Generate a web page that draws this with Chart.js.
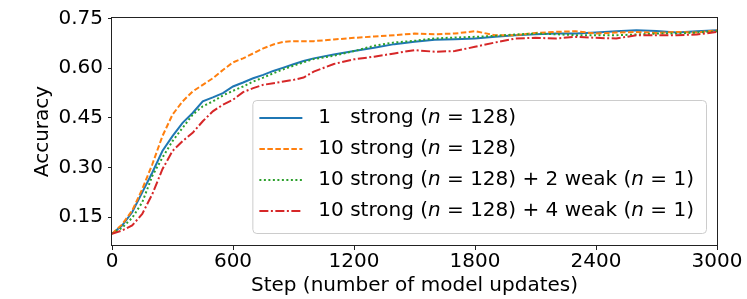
<!DOCTYPE html>
<html>
<head>
<meta charset="utf-8">
<script src="https://cdn.jsdelivr.net/npm/chart.js@4.4.1/dist/chart.umd.min.js"></script>
<style>
  html, body { margin: 0; padding: 0; background: #fff; }
  #wrap { width: 747px; height: 299px; }
</style>
</head>
<body>
<div id="wrap"><canvas id="chart" width="747" height="299"></canvas></div>
<script>
// --- Data ---
const steps = [0, 50, 100, 150, 200, 250, 300, 350, 400, 450, 500, 550, 600, 650, 700, 750, 800, 850, 900, 950, 1000,
    1100, 1200, 1300, 1400, 1500, 1600, 1700, 1800, 1900, 2000, 2100, 2200, 2300, 2400, 2500, 2600, 2700, 2800, 2900, 3000];

const strong1 = [0.100, 0.125, 0.165, 0.225, 0.285, 0.350, 0.395, 0.435, 0.465, 0.500, 0.512, 0.525, 0.545, 0.557, 0.570, 0.580, 0.592, 0.602, 0.612, 0.622, 0.630,
    0.642, 0.652, 0.662, 0.673, 0.680, 0.686, 0.688, 0.690, 0.695, 0.700, 0.703, 0.705, 0.705, 0.708, 0.712, 0.715, 0.713, 0.708, 0.712, 0.715];

const strong10 = [0.100, 0.128, 0.170, 0.235, 0.310, 0.395, 0.460, 0.500, 0.530, 0.550, 0.570, 0.595, 0.618, 0.630, 0.645, 0.660, 0.672, 0.680, 0.682, 0.682, 0.682,
    0.687, 0.692, 0.696, 0.700, 0.705, 0.703, 0.705, 0.712, 0.700, 0.700, 0.707, 0.710, 0.712, 0.705, 0.708, 0.710, 0.707, 0.710, 0.708, 0.715];

const weak2 = [0.100, 0.118, 0.148, 0.195, 0.275, 0.330, 0.380, 0.420, 0.460, 0.485, 0.500, 0.518, 0.532, 0.545, 0.560, 0.572, 0.585, 0.597, 0.608, 0.618, 0.628,
    0.638, 0.652, 0.668, 0.678, 0.683, 0.690, 0.693, 0.695, 0.698, 0.702, 0.705, 0.703, 0.700, 0.700, 0.700, 0.702, 0.705, 0.705, 0.708, 0.712];

const weak4 = [0.100, 0.110, 0.125, 0.160, 0.220, 0.295, 0.350, 0.380, 0.405, 0.440, 0.470, 0.490, 0.505, 0.528, 0.540, 0.550, 0.555, 0.560, 0.565, 0.572, 0.590,
    0.613, 0.627, 0.635, 0.645, 0.655, 0.650, 0.652, 0.665, 0.678, 0.690, 0.692, 0.690, 0.695, 0.692, 0.690, 0.700, 0.700, 0.700, 0.702, 0.710];

// *...* marks italic parts
const seriesLabels = [
    '1   strong (*n* = 128)',
    '10 strong (*n* = 128)',
    '10 strong (*n* = 128) + 2 weak (*n* = 1)',
    '10 strong (*n* = 128) + 4 weak (*n* = 1)'
];

const yTicks = [0.15, 0.30, 0.45, 0.60, 0.75];
const xTicks = [0, 600, 1200, 1800, 2400, 3000];

const FONT = 'DejaVu Sans';
Chart.defaults.font.family = FONT;
Chart.defaults.font.size = 20;
Chart.defaults.color = '#000';

function toPoints(vals) {
    return steps.map((s, i) => ({ x: s, y: vals[i] }));
}

function makeSet(idx, vals, color, dash) {
    return {
        label: seriesLabels[idx].replace(/\*/g, ''),
        data: toPoints(vals),
        borderColor: color,
        backgroundColor: color,
        borderWidth: 2,
        borderDash: dash,
        pointRadius: 0,
        tension: 0,
        fill: false,
        order: 4 - idx
    };
}

// full box round the plot, like matplotlib spines
const frame = {
    id: 'frame',
    afterDatasetsDraw(chart) {
        const { ctx, chartArea: a } = chart;
        ctx.save();
        ctx.strokeStyle = '#222';
        ctx.lineWidth = 1;
        ctx.strokeRect(Math.round(a.left) - 0.5, Math.round(a.top) + 0.5, Math.round(a.right - a.left) + 1, Math.round(a.bottom - a.top) - 1);
        ctx.restore();
    }
};

// legend in the lower right of the plot
const boxLegend = {
    id: 'boxLegend',
    afterDraw(chart) {
        const { ctx, chartArea: a } = chart;
        const sets = chart.data.datasets;
        ctx.save();
        const fs = 20;
        const normal = fs + 'px "' + FONT + '"';
        const italic = 'oblique ' + fs + 'px "' + FONT + '"';

        const parts = seriesLabels.map(l => l.split('*'));
        const widths = parts.map(p => p.reduce((w, s, i) => {
            ctx.font = i % 2 ? italic : normal;
            return w + ctx.measureText(s).width;
        }, 0));
        const textW = Math.max(...widths);

        const pad = 7, handle = 43, gap = 16, rowH = 31;
        const w = pad + handle + gap + textW + 12;
        const h = rowH * sets.length + 9;
        const right = a.right - 11;
        const bottom = a.bottom - 13;
        const x0 = right - w, y0 = bottom - h;

        ctx.beginPath();
        ctx.roundRect(x0 + 0.5, y0 + 0.5, w, h, 4);
        ctx.fillStyle = 'rgba(255,255,255,0.8)';
        ctx.fill();
        ctx.strokeStyle = '#cccccc';
        ctx.lineWidth = 1;
        ctx.stroke();

        sets.forEach((ds, i) => {
            const cy = y0 + 18 + i * rowH;
            ctx.beginPath();
            ctx.setLineDash(ds.borderDash || []);
            ctx.strokeStyle = ds.borderColor;
            ctx.lineWidth = ds.borderWidth;
            ctx.moveTo(x0 + pad, cy);
            ctx.lineTo(x0 + pad + handle, cy);
            ctx.stroke();
            ctx.setLineDash([]);

            let tx = x0 + pad + handle + gap;
            ctx.fillStyle = '#000';
            ctx.textBaseline = 'middle';
            parts[i].forEach((s, j) => {
                ctx.font = j % 2 ? italic : normal;
                ctx.fillText(s, tx, cy);
                tx += ctx.measureText(s).width;
            });
        });
        ctx.restore();
    }
};

new Chart(document.getElementById('chart'), {
    type: 'line',
    data: {
        datasets: [
            makeSet(0, strong1, '#1f77b4', []),
            makeSet(1, strong10, '#ff7f0e', [5.5, 2.5]),
            makeSet(2, weak2, '#2ca02c', [2, 2.5]),
            makeSet(3, weak4, '#d62728', [9, 2.5, 2, 2.5])
        ]
    },
    options: {
        responsive: false,
        animation: false,
        layout: { padding: { top: 15, right: 30, left: 0, bottom: 0 } },
        plugins: { legend: { display: false }, tooltip: { enabled: false } },
        scales: {
            x: {
                type: 'linear',
                min: 0,
                max: 3000,
                afterBuildTicks: s => { s.ticks = xTicks.map(v => ({ value: v })); },
                afterFit: s => { s.height = 53; },
                grid: { display: true, drawOnChartArea: false, drawTicks: true, tickLength: 4, color: '#222' },
                border: { display: false },
                ticks: { padding: 0, maxRotation: 0, autoSkip: false, callback: v => String(v) },
                title: { display: true, text: 'Step (number of model updates)', padding: { top: 0, bottom: 1 } }
            },
            y: {
                min: 0.063,
                max: 0.755,
                afterBuildTicks: s => { s.ticks = yTicks.map(v => ({ value: v })); },
                afterFit: s => { s.width = 112; },
                grid: { display: true, drawOnChartArea: false, drawTicks: true, tickLength: 4, color: '#222' },
                border: { display: false },
                ticks: { padding: 5, callback: v => v.toFixed(2) },
                title: { display: true, text: 'Accuracy', padding: { top: 31, bottom: 0 } }
            }
        }
    },
    plugins: [frame, boxLegend]
});
</script>
</body>
</html>
